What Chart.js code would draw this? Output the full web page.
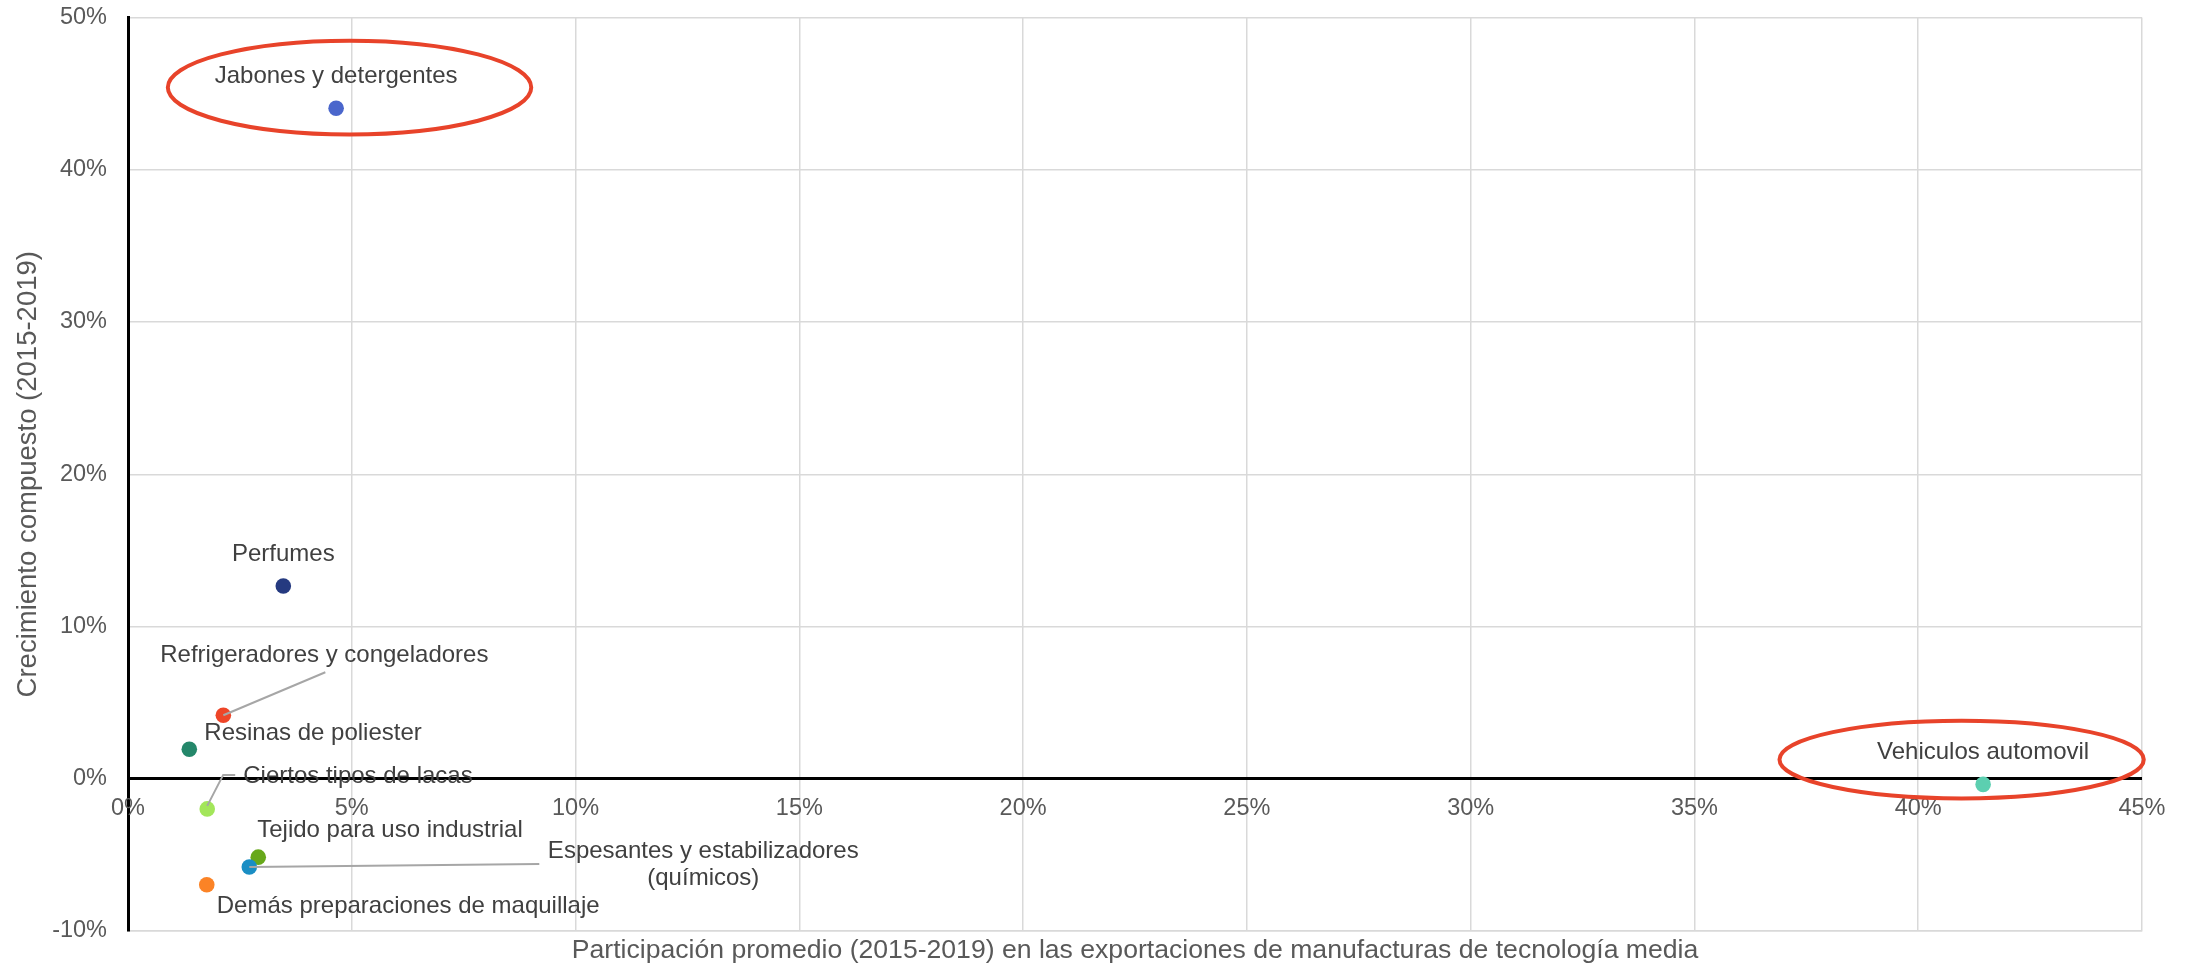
<!DOCTYPE html>
<html>
<head>
<meta charset="utf-8">
<script src="https://cdn.jsdelivr.net/npm/chart.js@4.4.1/dist/chart.umd.min.js"></script>
<style>
  body { margin: 0; background: #fff; }
  canvas { display: block; }
</style>
</head>
<body>
<canvas id="scatter" width="2196" height="968"></canvas>
<script>
// data (percent)
const products = [
  ['Jabones y detergentes'],
  ['Perfumes'],
  ['Refrigeradores y congeladores'],
  ['Resinas de poliester'],
  ['Ciertos tipos de lacas'],
  ['Tejido para uso industrial'],
  ['Espesantes y estabilizadores', '(químicos)'],
  ['Demás preparaciones de maquillaje'],
  ['Vehiculos automovil']
];
const participacion = [4.65, 3.47, 2.13, 1.37, 1.77, 2.91, 2.71, 1.76, 41.45];
const crecimiento = [44.04, 12.66, 4.17, 1.94, -1.98, -5.15, -5.80, -6.96, -0.37];
const pointColors = ['#4a66cc', '#253a80', '#ee4528', '#24876a', '#a3e65a', '#67a81a', '#1a8ec4', '#fb8326', '#5ccfb0'];

// highlighted products (index into products)
const highlighted = [0, 8];

const xTitle = 'Participación promedio (2015-2019) en las exportaciones de manufacturas de tecnología media';
const yTitle = 'Crecimiento compuesto (2015-2019)';

// where each label sits relative to its point (pixels)
const labelLayout = [
  { dx: 0, dy: -32, align: 'center' },
  { dx: 0, dy: -32, align: 'center' },
  { dx: 101, dy: -60, align: 'center' },
  { dx: 15, dy: -16, align: 'left' },
  { dx: 36, dy: -33, align: 'left' },
  { dx: -1, dy: -27, align: 'left' },
  { dx: 454, dy: -15.6, align: 'center' },
  { dx: 10, dy: 22, align: 'left' },
  { dx: 0, dy: -32, align: 'center' }
];
const leaders = {
  2: [[102, -43], [0, 0]],
  4: [[28, -34], [16, -34], [0, -3]],
  6: [[290, -3], [0, 0]]
};
// red rings around highlighted points: offset of centre and radii in data units
const ringLayout = [
  { cx: 0.30, cy: 1.36, rx: 4.06, ry: 3.08 },
  { cx: -0.48, cy: 1.63, rx: 4.07, ry: 2.55 }
];

const font = 'Liberation Sans, Arial, sans-serif';

const annotations = {
  id: 'annotations',
  afterDatasetsDraw(chart) {
    const ctx = chart.ctx;
    const meta = chart.getDatasetMeta(0);
    const xs = chart.scales.x, ys = chart.scales.y;
    ctx.save();

    // leader lines
    ctx.strokeStyle = '#a6a6a6';
    ctx.lineWidth = 2;
    Object.keys(leaders).forEach(k => {
      const pt = meta.data[k];
      ctx.beginPath();
      leaders[k].forEach((p, j) => {
        if (j === 0) ctx.moveTo(pt.x + p[0], pt.y + p[1]);
        else ctx.lineTo(pt.x + p[0], pt.y + p[1]);
      });
      ctx.stroke();
    });

    // point labels
    ctx.fillStyle = '#404040';
    ctx.font = '24px ' + font;
    ctx.textBaseline = 'middle';
    meta.data.forEach((pt, i) => {
      const l = labelLayout[i];
      ctx.textAlign = l.align;
      products[i].forEach((line, j) => {
        ctx.fillText(line, pt.x + l.dx, pt.y + l.dy + j * 26.6);
      });
    });

    // x tick labels along the zero line
    const y0 = ys.getPixelForValue(0);
    ctx.fillStyle = '#595959';
    ctx.font = '23.5px ' + font;
    ctx.textAlign = 'center';
    xs.ticks.forEach(t => {
      ctx.fillText(t.value + '%', xs.getPixelForValue(t.value), y0 + 30);
    });

    // rings
    ctx.strokeStyle = '#e8432a';
    ctx.lineWidth = 4;
    highlighted.forEach((idx, k) => {
      const r = ringLayout[k];
      const cx = participacion[idx] + r.cx, cy = crecimiento[idx] + r.cy;
      const px = xs.getPixelForValue(cx), py = ys.getPixelForValue(cy);
      const rx = xs.getPixelForValue(cx + r.rx) - px;
      const ry = py - ys.getPixelForValue(cy + r.ry);
      ctx.beginPath();
      ctx.ellipse(px, py, rx, ry, 0, 0, Math.PI * 2);
      ctx.stroke();
    });
    ctx.restore();
  }
};

new Chart(document.getElementById('scatter'), {
  type: 'scatter',
  data: {
    datasets: [{
      data: participacion.map((v, i) => ({ x: v, y: crecimiento[i] })),
      backgroundColor: pointColors,
      borderWidth: 0,
      pointRadius: 7.8
    }]
  },
  options: {
    responsive: false,
    animation: false,
    layout: { padding: { top: 17.5, right: 54, left: 0, bottom: 0 } },
    plugins: { legend: { display: false }, tooltip: { enabled: false } },
    scales: {
      x: {
        min: 0, max: 45,
        ticks: { stepSize: 5, display: false },
        grid: { color: '#d9d9d9', lineWidth: 1.5, drawTicks: false },
        border: { color: '#d9d9d9', width: 1.5 },
        title: {
          display: true, text: xTitle, color: '#595959',
          font: { family: font, size: 26.6 }, padding: { top: 4, bottom: 1 }
        },
        afterFit: s => { s.height = 37; }
      },
      y: {
        min: -10, max: 50,
        ticks: {
          stepSize: 10, color: '#595959', padding: 21,
          font: { family: font, size: 23.5 },
          callback: v => v + '%'
        },
        grid: {
          drawTicks: false,
          color: c => c.tick && c.tick.value === 0 ? '#000000' : '#d9d9d9',
          lineWidth: c => c.tick && c.tick.value === 0 ? 3 : 1.5
        },
        border: { color: '#000000', width: 3 },
        title: {
          display: true, text: yTitle, color: '#595959',
          font: { family: font, size: 27.5 }, padding: { top: 11.5, bottom: 8 }
        },
        afterFit: s => {
          s.width = 128;
          s.paddingTop = 0;
          s.paddingBottom = 0;
        }
      }
    }
  },
  plugins: [annotations]
});
</script>
</body>
</html>
